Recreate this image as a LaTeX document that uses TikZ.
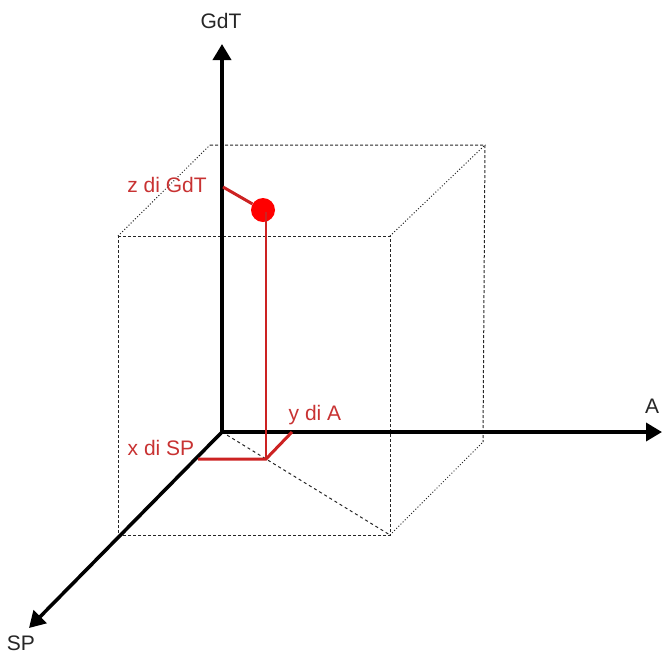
\documentclass[tikz,border=0pt]{standalone}
\usepackage{fontspec}
\setmainfont{Liberation Sans}
\usepackage{tikz}
\usetikzlibrary{arrows.meta, positioning}
\definecolor{myred}{HTML}{CC2222}
\definecolor{mylabelred}{HTML}{C83232}
\tikzset{
	axisline/.style={
			draw=black,
			line width=3.5pt,
			-{Triangle[length=16pt, width=18pt]}
		},
	boxedge/.style={
			draw=black!85,
			line width=1pt,
			dash pattern=on 3pt off 2pt
		},
	depthedge/.style={
			draw=black!85,
			line width=1pt,
			dotted
		},
	redline/.style={
			draw=myred,
			line width=3pt
		},
	reddot/.style={
			circle,
			fill=red,
			draw=none,
			minimum size=24pt,
			inner sep=0pt
		},
	axislabel/.style={
			anchor=base,
			text=black!85,
			font=\fontsize{21}{25}\selectfont
		},
	redlabel/.style={
			axislabel,
			text=mylabelred
		}
}

\begin{document}
\begin{tikzpicture}[x=1pt, y=-1pt]
\useasboundingbox (0,0) rectangle (662,657);

% box corners
\coordinate (f1) at (118,236);
\coordinate (f2) at (390,236);
\coordinate (f3) at (390,535);
\coordinate (f4) at (118,535);
\coordinate (b1) at (210,145);
\coordinate (b2) at (485,145);
\coordinate (b3) at (483,442);

% axes end points
\coordinate (O) at (222,432);
\coordinate (gdt) at (222,44);
\coordinate (a) at (662,432);
\coordinate (sp) at (29,628);

% red construction points
\coordinate (ft) at (266,459);
\coordinate (top) at (266,212);
\coordinate (xs) at (198,459);
\coordinate (ya) at (292,432);
\coordinate (lead) at (223,187);

\draw[boxedge] (f1) -- (f2) -- (f3) -- (f4) -- cycle;
\draw[boxedge] (b1) -- (b2) -- (b3);
\draw[depthedge] (f1) -- (b1);
\draw[depthedge] (f2) -- (b2);
\draw[depthedge] (f3) -- (b3);
\draw[boxedge, dash pattern=on 3pt off 3pt] (O) -- (f3);

\draw[axisline] (O) -- (gdt);
\draw[axisline] (O) -- (a);
\draw[axisline] (O) -- (sp);

\node[reddot] (pt) at (263,210) {};
\draw[redline, line width=2pt] (top) -- (ft);
\draw[redline] (xs) -- (ft) -- (ya);
\draw[redline] (lead) -- (pt);

\node[axislabel] (lgdt) at (221,28) {GdT};
\node[axislabel] (la) at (652,413) {A};
\node[axislabel] (lsp) at (21,650) {SP};
\node[redlabel] (lz) at (167,192) {z di GdT};
\node[redlabel] (lx) at (161,455) {x di SP};
\node[redlabel] (ly) at (315,420) {y di A};
\end{tikzpicture}
\end{document}
